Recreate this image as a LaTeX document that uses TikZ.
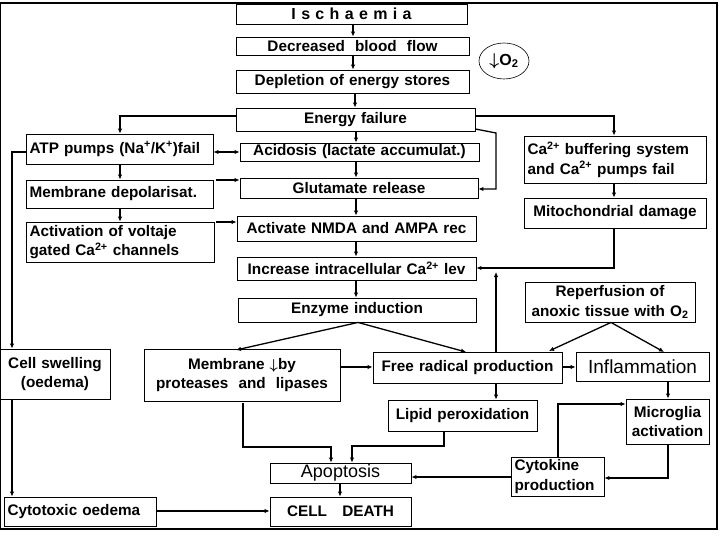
\documentclass[tikz,border=0pt]{standalone}
\usepackage{fontspec}
\setmainfont{Liberation Sans}
\usetikzlibrary{arrows.meta,shapes.geometric}
\newcommand\bx[7]{%
\pgfmathsetmacro\bw{#4-#2}\pgfmathsetmacro\bh{#5-#3}\pgfmathsetmacro\tw{#4-#2-2}%
\node[box,minimum width=\bw pt,minimum height=\bh pt,text width=\tw pt,align=#6] (#1) at ({(#2+#4)/2},{(#3+#5)/2}) {#7};}
\begin{document}
\begin{tikzpicture}[x=1pt,y=-1pt,
 box/.style={draw,line width=0.9pt,inner sep=0pt,font=\fontsize{15.3}{19.5}\selectfont\bfseries\boldmath},
 ar/.style={line width=1.3pt,-{Latex[length=5pt,width=4.5pt]}},
 ln/.style={line width=1.3pt}]
\useasboundingbox (0,0) rectangle (720,540);
\draw[line width=2pt] (0,3) rectangle (717,529);
\bx{isch}{236}{4}{467}{24}{center}{\fontsize{16}{17}\selectfont I\,\,s\,\,c\,\,h\,\,a\,\,e\,\,m\,\,i\,\,a}
\bx{dbf}{236}{37}{469}{55}{center}{Decreased\ \ blood\ \ flow}
\node[draw,ellipse,line width=0.6pt,minimum width=50pt,minimum height=36pt,inner sep=0pt,font=\fontsize{16}{16}\selectfont\bfseries\boldmath] (o2) at (504,61) {$\downarrow$O\textsubscript{2}};
\bx{dep}{236}{70}{469}{93}{center}{Depletion of energy stores}
\bx{ef}{236}{108}{475}{131}{center}{Energy failure}
\bx{atp}{26}{134}{213}{164}{left}{\,ATP pumps (Na\textsuperscript{+}/K\textsuperscript{+})fail}
\bx{aci}{240}{143}{479}{161}{center}{Acidosis (lactate accumulat.)}
\bx{cab}{524}{136}{706}{183}{left}{\,Ca\textsuperscript{2+} buffering system\\\,and Ca\textsuperscript{2+} pumps fail}
\bx{mdp}{26}{180}{213}{208}{left}{\,Membrane depolarisat.}
\bx{glu}{240}{178}{478}{198}{center}{Glutamate release}
\bx{mit}{524}{198}{706}{228}{center}{Mitochondrial damage}
\bx{avg}{26}{222}{214}{262}{left}{\,Activation of voltaje\\\,gated Ca\textsuperscript{2+} channels}
\bx{nmda}{237}{216}{476}{241}{center}{Activate NMDA and AMPA rec}
\bx{inc}{237}{257}{476}{280}{center}{Increase intracellular Ca\textsuperscript{2+} lev}
\bx{enz}{238}{298}{476}{322}{center}{Enzyme induction}
\bx{rep}{525}{282}{695}{322}{center}{Reperfusion of\\anoxic tissue with O\textsubscript{2}}
\bx{csw}{0}{349}{110}{399}{center}{Cell swelling\\(oedema)}
\bx{mem}{144}{349}{340}{401}{center}{Membrane $\downarrow$by\\proteases\ \ and\ \ lipases}
\bx{frp}{373}{352}{562}{383}{center}{Free radical production}
\bx{inf}{576}{352}{709}{381}{center}{\fontsize{19}{20}\selectfont\mdseries Inflammation}
\bx{lip}{388}{400}{537}{431}{center}{Lipid peroxidation}
\bx{mic}{626}{399}{709}{444}{center}{Microglia\\activation}
\bx{apo}{270}{463}{411}{483}{center}{\fontsize{18}{19}\selectfont\mdseries Apoptosis}
\bx{cyt}{511}{457}{604}{496}{left}{\,Cytokine\\\,production}
\bx{cto}{4}{497}{156}{526}{left}{\,Cytotoxic oedema}
\bx{cd}{270}{497}{411}{526}{center}{CELL\ \ \ DEATH}
% main chain
\draw[ar] (isch.south -| 353,0) -- (dbf.north -| 353,0);
\draw[ar] (dbf.south -| 353,0) -- (dep.north -| 353,0);
\draw[ar] (dep.south -| 355,0) -- (ef.north -| 355,0);
\draw[ar] (ef.south -| 356,0) -- (aci.north -| 356,0);
\draw[ar] (aci.south -| 356,0) -- (glu.north -| 356,0);
\draw[ar] (glu.south -| 356,0) -- (nmda.north -| 356,0);
\draw[ar] (nmda.south -| 356,0) -- (inc.north -| 356,0);
\draw[ar] (inc.south -| 356,0) -- (enz.north -| 356,0);
% energy failure branches
\draw[ar] (ef.west |- 0,116) -- (120,116) -- (atp.north -| 120,0);
\draw[ar] (ef.east |- 0,116) -- (614,116) -- (cab.north -| 614,0);
\draw[ar] (ef.east |- 0,129) -- (496,133) -- (496,189) -- (glu.east |- 0,189);
% left column
\draw[line width=1.3pt,{Latex[length=5pt,width=4.5pt]}-{Latex[length=5pt,width=4.5pt]}] (atp.east |- 0,152) -- (aci.west |- 0,152);
\draw[ar] (atp.south -| 120,0) -- (mdp.north -| 120,0);
\draw[ar] (mdp.south -| 120,0) -- (avg.north -| 120,0);
\draw[ar] (216,180) -- (glu.west |- 0,180);
\draw[ar] (216,222) -- (nmda.west |- 0,222);
\draw[ar] (atp.west |- 0,152) -- (12,152) -- (csw.north -| 12,0);
\draw[ar] (csw.south -| 12,0) -- (cto.north -| 12,0);
\draw[ar] (cto.east |- 0,511) -- (cd.west |- 0,511);
% right column
\draw[ar] (cab.south -| 614,0) -- (mit.north -| 614,0);
\draw[ar] (mit.south -| 614,0) -- (614,268) -- (inc.east |- 0,268);
% lower part
\draw[ar] (enz.south -| 358,0) -- (236,350);
\draw[ar] (enz.south -| 358,0) -- (466,352);
\draw[ar] (mem.east |- 0,367) -- (frp.west |- 0,367);
\draw[ar] (frp.north -| 496,0) -- (496,272);
\draw[ar] (frp.east |- 0,367) -- (inf.west |- 0,367);
\draw[ar] (rep.south -| 611,0) -- (549,351);
\draw[ar] (rep.south -| 611,0) -- (664,352);
\draw[ar] (frp.south -| 496,0) -- (lip.north -| 496,0);
\draw[ar] (inf.south -| 668,0) -- (mic.north -| 668,0);
\draw[ar] (mic.south -| 668,0) -- (668,478) -- (cyt.east |- 0,478);
\draw[ar] (cyt.north -| 558,0) -- (558,404) -- (mic.west |- 0,404);
\draw[ar] (cyt.west |- 0,477) -- (apo.east |- 0,477);
\draw[ar] (243,403) -- (243,447) -- (331,447) -- (apo.north -| 331,0);
\draw[ar] (lip.south -| 444,0) -- (444,446) -- (352,446) -- (apo.north -| 352,0);
\draw[ar] (apo.south -| 340,0) -- (cd.north -| 340,0);
\end{tikzpicture}
\end{document}
